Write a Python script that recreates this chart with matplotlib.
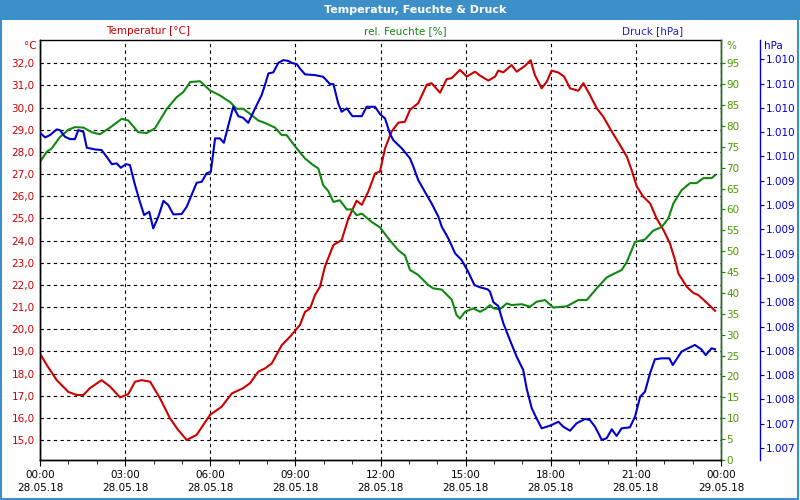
import matplotlib
matplotlib.use('Agg')
from matplotlib import pyplot as plt
from matplotlib.patches import Rectangle
from matplotlib.ticker import MultipleLocator

# Stunden seit 28.05.18 00:00
temp_h = [0.00, 0.24, 0.59, 1.00, 1.29, 1.53, 1.76, 2.17, 2.47, 2.82, 3.11, 3.35, 3.58, 3.88,
          4.23, 4.58, 4.87, 5.17, 5.52, 5.99, 6.40, 6.76, 7.16, 7.40, 7.69, 7.93, 8.17, 8.52,
          8.81, 9.16, 9.34, 9.52, 9.69, 9.87, 10.04, 10.34, 10.63, 10.87, 11.16, 11.34, 11.57,
          11.81, 11.98, 12.16, 12.39, 12.63, 12.86, 13.04, 13.33, 13.63, 13.80, 14.10, 14.33,
          14.51, 14.80, 15.04, 15.33, 15.51, 15.80, 16.04, 16.15, 16.33, 16.62, 16.80, 17.09,
          17.29, 17.44, 17.68, 17.86, 18.03, 18.27, 18.47, 18.68, 18.97, 19.15, 19.38, 19.62,
          19.85, 20.15, 20.44, 20.68, 20.85, 21.03, 21.26, 21.50, 21.73, 21.97, 22.20, 22.38,
          22.50, 22.79, 23.02, 23.20, 23.50, 23.79]
temp = [18.90, 18.38, 17.70, 17.17, 17.03, 17.03, 17.34, 17.70, 17.41, 16.92, 17.07, 17.63, 17.70, 17.63,
        16.88, 15.98, 15.45, 15.00, 15.23, 16.13, 16.50, 17.10, 17.34, 17.56, 18.08, 18.23, 18.46, 19.28,
        19.66, 20.19, 20.78, 20.94, 21.54, 21.92, 22.82, 23.80, 24.02, 25.00, 25.80, 25.61, 26.21,
        27.03, 27.11, 28.16, 28.92, 29.32, 29.36, 29.90, 30.20, 31.03, 31.10, 30.67, 31.28,
        31.33, 31.70, 31.40, 31.62, 31.44, 31.22, 31.40, 31.67, 31.59, 31.92, 31.62, 31.88,
        32.14, 31.47, 30.87, 31.17, 31.67, 31.58, 31.40, 30.87, 30.76, 31.10, 30.57, 29.97,
        29.59, 28.92, 28.31, 27.79, 27.18, 26.44, 25.98, 25.68, 25.00, 24.48, 23.87, 23.12,
        22.51, 21.92, 21.64, 21.54, 21.19, 20.83]

hum_h = [0.00, 0.24, 0.41, 0.70, 1.00, 1.23, 1.53, 1.82, 2.11, 2.47, 2.88, 3.11, 3.46, 3.76,
         4.05, 4.47, 4.82, 5.05, 5.29, 5.64, 5.99, 6.34, 6.70, 6.93, 7.16, 7.40, 7.69, 7.93,
         8.28, 8.52, 8.69, 8.99, 9.34, 9.63, 9.81, 9.98, 10.16, 10.34, 10.57, 10.81, 10.99,
         11.16, 11.34, 11.69, 11.98, 12.33, 12.63, 12.86, 13.04, 13.33, 13.68, 13.86, 14.16,
         14.51, 14.68, 14.80, 14.98, 15.27, 15.51, 15.68, 15.86, 15.98, 16.21, 16.45, 16.62,
         16.98, 17.27, 17.50, 17.80, 18.09, 18.56, 18.97, 19.27, 19.62, 19.97, 20.20, 20.50,
         20.68, 20.97, 21.32, 21.61, 21.91, 22.14, 22.32, 22.61, 22.91, 23.14, 23.38, 23.67, 23.79]
hum = [71.4, 73.8, 74.6, 77.3, 79.1, 79.7, 79.6, 78.5, 78.0, 79.6, 81.7, 81.3, 78.5, 78.3,
       79.4, 84.1, 86.9, 88.1, 90.5, 90.7, 88.5, 87.3, 85.7, 84.1, 84.1, 82.9, 81.3, 80.7,
       79.6, 77.8, 77.8, 75.1, 72.2, 70.6, 69.8, 65.8, 64.4, 61.8, 62.2, 60.0, 60.0,
       58.6, 59.0, 57.0, 55.7, 52.6, 50.2, 49.0, 45.5, 44.3, 41.9, 41.1, 40.8,
       38.4, 34.7, 33.9, 35.5, 36.3, 35.5, 36.1, 37.1, 36.3, 36.1, 37.5, 37.1,
       37.3, 36.7, 37.9, 38.3, 36.5, 36.8, 38.3, 38.3, 41.1, 43.7, 44.5, 45.5,
       47.4, 52.2, 52.8, 54.9, 55.8, 57.8, 61.4, 64.6, 66.3, 66.3, 67.5, 67.5, 68.2]

druck_h = [0.00, 0.18, 0.35, 0.59, 0.70, 0.88, 1.06, 1.23, 1.35, 1.53, 1.65, 1.94, 2.17, 2.35,
           2.53, 2.70, 2.85, 3.03, 3.17, 3.35, 3.52, 3.67, 3.85, 3.99, 4.17, 4.35, 4.52, 4.70,
           4.99, 5.17, 5.52, 5.70, 5.87, 6.02, 6.17, 6.34, 6.48, 6.64, 6.81, 6.99, 7.16, 7.34,
           7.58, 7.81, 7.93, 8.05, 8.22, 8.40, 8.57, 8.75, 8.87, 9.05, 9.16, 9.34, 9.69, 9.98,
           10.22, 10.34, 10.51, 10.63, 10.81, 11.01, 11.34, 11.51, 11.81, 11.98, 12.16, 12.33,
           12.45, 12.75, 13.04, 13.16, 13.33, 13.63, 13.80, 14.04, 14.16, 14.39, 14.63, 14.86,
           15.09, 15.31, 15.51, 15.78, 15.86, 15.98, 16.15, 16.33, 16.56, 16.80, 17.03, 17.15,
           17.33, 17.50, 17.68, 17.86, 18.03, 18.27, 18.44, 18.68, 18.91, 19.21, 19.38, 19.56,
           19.80, 19.97, 20.15, 20.32, 20.50, 20.79, 20.97, 21.15, 21.32, 21.50, 21.67, 21.91,
           22.18, 22.30, 22.61, 22.84, 23.08, 23.31, 23.46, 23.67, 23.79]
druck = [1009.795, 1009.757, 1009.776, 1009.823, 1009.817, 1009.762, 1009.743, 1009.743, 1009.817,
         1009.803, 1009.672, 1009.658, 1009.653, 1009.597, 1009.537, 1009.543, 1009.507, 1009.537,
         1009.529, 1009.364, 1009.227, 1009.118, 1009.145, 1009.008, 1009.104, 1009.235, 1009.200,
         1009.123, 1009.126, 1009.186, 1009.383, 1009.392, 1009.461, 1009.474, 1009.749, 1009.749,
         1009.713, 1009.858, 1010.009, 1009.932, 1009.918, 1009.877, 1009.996, 1010.105, 1010.190,
         1010.284, 1010.292, 1010.371, 1010.393, 1010.387, 1010.371, 1010.360, 1010.325, 1010.276,
         1010.270, 1010.256, 1010.196, 1010.196, 1010.037, 1009.968, 1009.996, 1009.932, 1009.932,
         1010.009, 1010.009, 1009.949, 1009.913, 1009.790, 1009.735, 1009.667, 1009.584, 1009.515,
         1009.406, 1009.282, 1009.214, 1009.104, 1009.021, 1008.926, 1008.802, 1008.747, 1008.651,
         1008.541, 1008.523, 1008.506, 1008.486, 1008.400, 1008.369, 1008.226, 1008.089, 1007.951,
         1007.842, 1007.691, 1007.527, 1007.444, 1007.362, 1007.375, 1007.389, 1007.416, 1007.375,
         1007.342, 1007.403, 1007.439, 1007.430, 1007.375, 1007.266, 1007.280, 1007.354, 1007.299,
         1007.362, 1007.370, 1007.458, 1007.622, 1007.663, 1007.815, 1007.930, 1007.938, 1007.938,
         1007.883, 1007.993, 1008.021, 1008.048, 1008.012, 1007.965, 1008.021, 1008.012]

x_ticks = [0, 3, 6, 9, 12, 15, 18, 21, 24]
x_labels = ['00:00\n28.05.18', '03:00\n28.05.18', '06:00\n28.05.18', '09:00\n28.05.18',
            '12:00\n28.05.18', '15:00\n28.05.18', '18:00\n28.05.18', '21:00\n28.05.18',
            '00:00\n29.05.18']
temp_ticks = [15, 16, 17, 18, 19, 20, 21, 22, 23, 24, 25, 26, 27, 28, 29, 30, 31, 32]
hum_ticks = list(range(0, 100, 5))
druck_ticks = [1007.2, 1007.4, 1007.6, 1007.8, 1008.0, 1008.2, 1008.4, 1008.6, 1008.8,
               1009.0, 1009.2, 1009.4, 1009.6, 1009.8, 1010.0, 1010.2, 1010.4]

RED = '#cc0000'
GREEN = '#118811'
GREEN_TXT = '#4a9a00'
BLUE = '#0000cc'

plt.rcParams['font.family'] = ['DejaVu Sans']
plt.rcParams['font.size'] = 7.5

fig = plt.figure(figsize=(8, 5), dpi=100)
fig.patch.set_facecolor('white')

# Titelleiste und Rahmen
fig.patches.append(Rectangle((0, 480 / 500), 1, 20 / 500, transform=fig.transFigure,
                             facecolor='#3d8fc7', edgecolor='none'))
fig.patches.append(Rectangle((0.001, 0.002), 0.997, 0.99, transform=fig.transFigure,
                             facecolor='none', edgecolor='#3d8fc7', lw=1.5))
fig.text(415 / 800, 490 / 500, 'Temperatur, Feuchte & Druck', color='white', weight='bold',
         ha='center', va='center', fontsize=8)

ax = fig.add_axes([40 / 800, 40 / 500, 681 / 800, 420 / 500])
ax2 = ax.twinx()
ax3 = ax.twinx()

ax.set_xlim(0, 24)
ax.set_ylim(14.097, 33.05)
ax2.set_ylim(0, 100.57)
ax3.set_ylim(1007.101, 1010.559)

ax.plot(temp_h, temp, color=RED, lw=1.5, zorder=3)
ax2.plot(hum_h, hum, color=GREEN, lw=1.5)
ax3.plot(druck_h, druck, color=BLUE, lw=1.5)

ax.set_xticks(x_ticks)
ax.set_xticklabels(x_labels, linespacing=1.45)
ax.xaxis.set_minor_locator(MultipleLocator(1))
ax.tick_params(axis='x', which='major', length=4, color='black', pad=3)
ax.tick_params(axis='x', which='minor', length=3, color='black')

ax.set_yticks(temp_ticks)
ax.set_yticklabels([f'{t:.1f}'.replace('.', ',') for t in temp_ticks])
ax.tick_params(axis='y', length=0, pad=4, labelcolor=RED)

ax.grid(True, which='major', color='black', linestyle=(0, (3, 3)), lw=0.8)

ax2.set_yticks(hum_ticks)
ax2.tick_params(axis='y', length=3, color=GREEN, labelcolor=GREEN_TXT, pad=1)

ax3.spines['right'].set_position(('axes', (760 - 40) / 681))
ax3.set_yticks(druck_ticks)
ax3.set_yticklabels([f'{p / 1000:.3f}' for p in druck_ticks])
ax3.tick_params(axis='y', length=3, color=BLUE, labelcolor=BLUE, pad=1)

for a in (ax, ax2, ax3):
    for s in a.spines.values():
        s.set_linewidth(1)
for s in ('left', 'top', 'bottom'):
    ax.spines[s].set_color('black')
ax2.spines['right'].set_color(GREEN)
ax3.spines['right'].set_color(BLUE)
ax3.spines['top'].set_visible(False)
ax3.spines['left'].set_visible(False)
ax3.spines['bottom'].set_visible(False)
ax2.spines['top'].set_visible(False)

# Beschriftungen oben
fig.text(148 / 800, 469 / 500, 'Temperatur [°C]', color=RED, ha='center', va='center')
fig.text(405 / 800, 469 / 500, 'rel. Feuchte [%]', color=GREEN, ha='center', va='center')
fig.text(653 / 800, 469 / 500, 'Druck [hPa]', color='#2222cc', ha='center', va='center')
fig.text(37 / 800, 454 / 500, '°C', color=RED, ha='right', va='center')
fig.text(726 / 800, 454 / 500, '%', color=GREEN_TXT, ha='left', va='center')
fig.text(764 / 800, 454 / 500, 'hPa', color=BLUE, ha='left', va='center')

fig.savefig('out.png', dpi=100)
